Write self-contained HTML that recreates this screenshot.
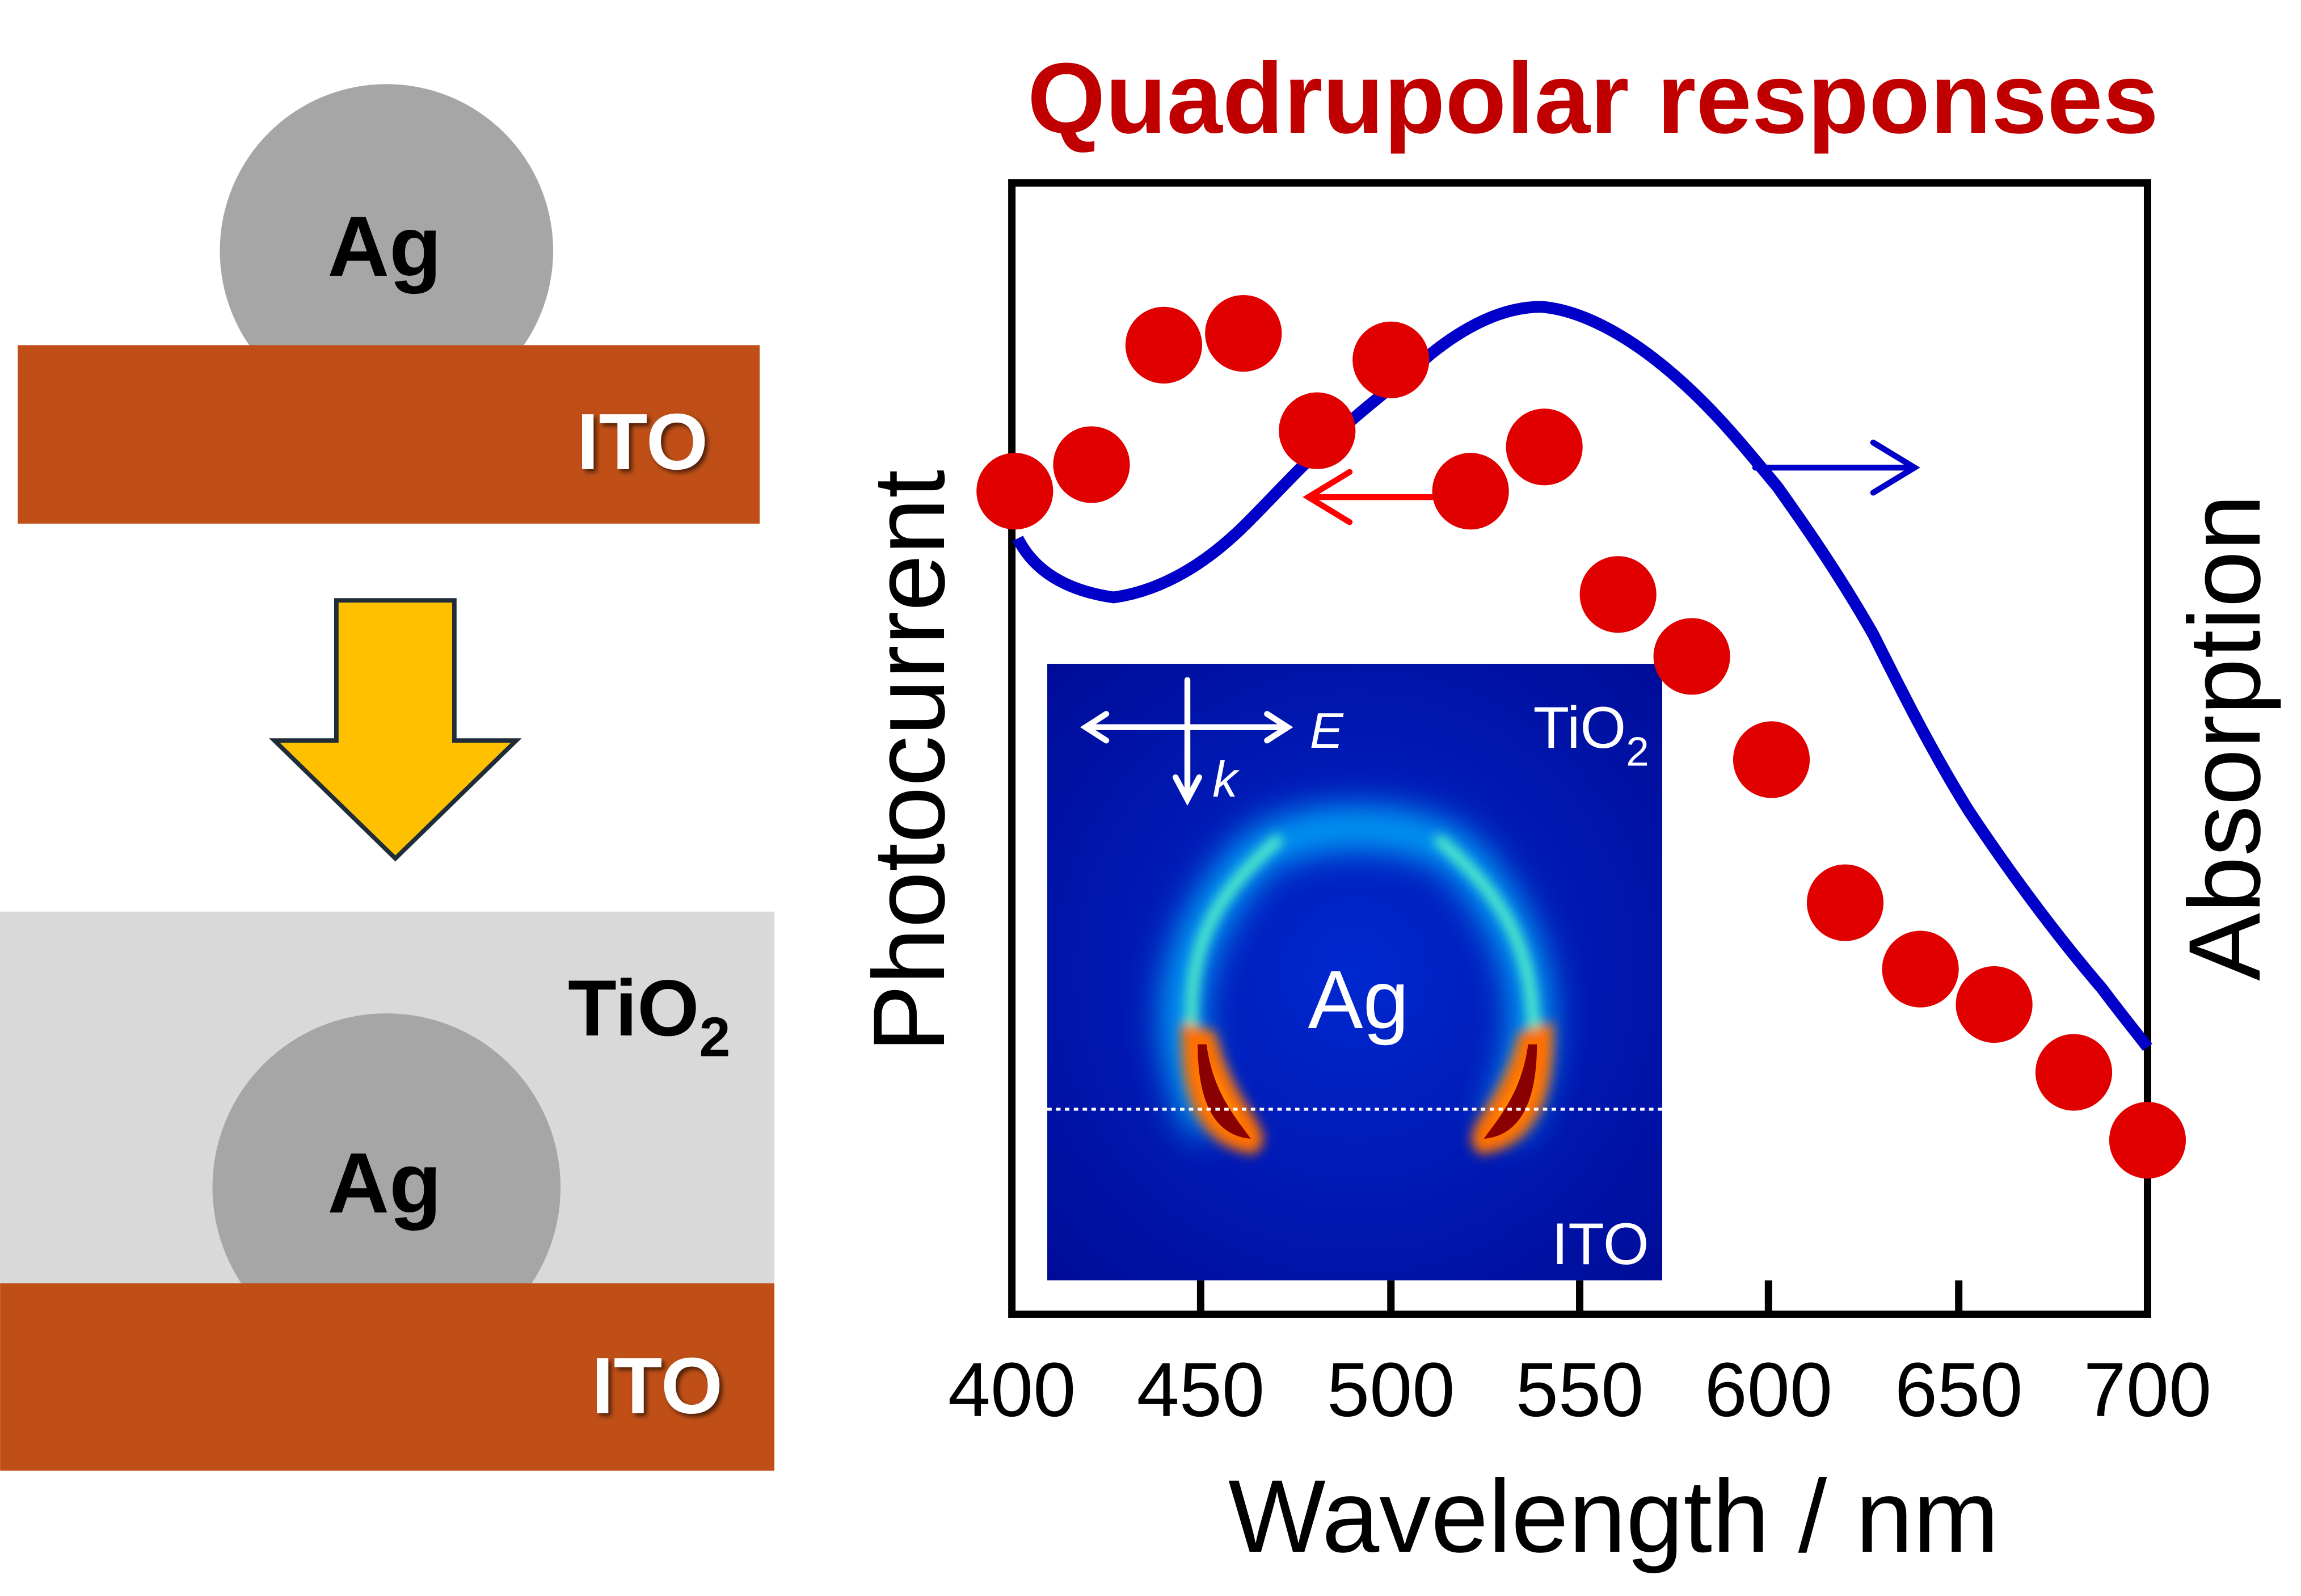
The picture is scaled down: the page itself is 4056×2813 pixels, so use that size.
<!DOCTYPE html>
<html><head><meta charset="utf-8"><style>
html,body{margin:0;padding:0;background:#fff;}
svg{display:block;}
text{font-family:"Liberation Sans",sans-serif;}
</style></head><body>
<svg width="4056" height="2813" viewBox="0 0 1560 1082" xmlns="http://www.w3.org/2000/svg">
<defs>
<filter id="sh"><feDropShadow dx="2" dy="2" stdDeviation="1.5" flood-color="#000" flood-opacity="0.6"/></filter>
<filter id="bl" x="-50%" y="-50%" width="200%" height="200%"><feGaussianBlur stdDeviation="12"/></filter>
<filter id="bl2" x="-50%" y="-50%" width="200%" height="200%"><feGaussianBlur stdDeviation="4"/></filter>
<radialGradient id="bg" cx="50%" cy="50%" r="70%"><stop offset="0" stop-color="#0028d0"/><stop offset="1" stop-color="#000c98"/></radialGradient>
<clipPath id="ic"><rect x="710" y="450" width="417" height="418"/></clipPath>
</defs>
<circle cx="262" cy="170" r="113" fill="#a6a6a6"/>
<rect x="12" y="234" width="503" height="121" fill="#bf4f17"/>
<text x="222" y="187" font-size="58" font-weight="bold" fill="#000">Ag</text>
<text x="480" y="318" font-size="54" font-weight="bold" fill="#fff" text-anchor="end" filter="url(#sh)">ITO</text>
<polygon points="228,407 308,407 308,502 350,502 268,582 186,502 228,502" fill="#ffc000" stroke="#1f2d3a" stroke-width="3"/>
<rect x="0" y="618" width="525" height="253" fill="#d9d9d9"/>
<circle cx="262" cy="805" r="118" fill="#a6a6a6"/>
<rect x="0" y="870" width="525" height="127" fill="#bf4f17"/>
<text x="222" y="822" font-size="58" font-weight="bold" fill="#000">Ag</text>
<text x="385" y="702" font-size="54" font-weight="bold" fill="#000">TiO<tspan font-size="38" dy="14">2</tspan></text>
<text x="490" y="958" font-size="54" font-weight="bold" fill="#fff" text-anchor="end" filter="url(#sh)">ITO</text>
<text x="1080" y="90" font-size="68" font-weight="bold" fill="#c00000" text-anchor="middle">Quadrupolar responses</text>
<g clip-path="url(#ic)">
<rect x="710" y="450" width="417" height="418" fill="url(#bg)"/>
<g filter="url(#bl)">
<path d="M820,765 C790,700 795,640 850,580 C880,555 960,555 990,580 C1045,640 1050,700 1020,765" fill="none" stroke="#00b0ff" stroke-width="26"/>
</g>
<g filter="url(#bl2)">
<path d="M808,700 C806,640 822,608 868,568 M974,568 C1020,608 1038,640 1040,700" fill="none" stroke="#60ffc0" stroke-width="7"/>
<path d="M808,702 C808,745 820,770 848,775 C855,768 830,750 818,705Z" fill="#ffd000" stroke="#ff7000" stroke-width="14"/>
<path d="M1046,702 C1046,745 1034,770 1006,775 C999,768 1024,750 1036,705Z" fill="#ffd000" stroke="#ff7000" stroke-width="14"/>
</g>
<path d="M812,708 C812,748 824,770 848,772 C838,758 822,740 818,708Z" fill="#8a0000"/>
<path d="M1042,708 C1042,748 1030,770 1006,772 C1016,758 1032,740 1036,708Z" fill="#8a0000"/>
<line x1="710" y1="752" x2="1127" y2="752" stroke="#fff" stroke-width="2" stroke-dasharray="3,3"/>
<text x="921" y="697" font-size="56" fill="#fff" text-anchor="middle">Ag</text>
<text x="1118" y="507" font-size="40" fill="#fff" text-anchor="end">TiO<tspan font-size="28" dy="12">2</tspan></text>
<text x="1118" y="857" font-size="40" fill="#fff" text-anchor="end">ITO</text>
<g stroke="#fff" stroke-width="4" fill="none" stroke-linecap="round">
<line x1="736" y1="493" x2="873" y2="493"/><polyline points="750,484 736,493 750,502"/><polyline points="859,484 873,493 859,502"/>
<line x1="805" y1="461" x2="805" y2="540"/><polyline points="797,527 805,542 813,527"/>
</g>
<text x="888" y="507" font-size="34" font-style="italic" fill="#fff">E</text>
<text x="822" y="540" font-size="34" font-style="italic" fill="#fff">k</text>
</g>
<rect x="686" y="124" width="770" height="767" fill="none" stroke="#000" stroke-width="5"/>
<g stroke="#000" stroke-width="5">
<line x1="814" y1="891" x2="814" y2="868"/><line x1="943" y1="891" x2="943" y2="868"/><line x1="1071" y1="891" x2="1071" y2="868"/><line x1="1199" y1="891" x2="1199" y2="868"/><line x1="1328" y1="891" x2="1328" y2="868"/>
</g>
<g font-size="52" text-anchor="middle" fill="#000">
<text x="686" y="960">400</text><text x="814" y="960">450</text><text x="943" y="960">500</text><text x="1071" y="960">550</text><text x="1199" y="960">600</text><text x="1328" y="960">650</text><text x="1456" y="960">700</text>
</g>
<text x="1094" y="1052" font-size="70" text-anchor="middle">Wavelength / nm</text>
<text transform="translate(640,516) rotate(-90)" font-size="69" text-anchor="middle">Photocurrent</text>
<text transform="translate(1532,500) rotate(-90)" font-size="69" text-anchor="middle">Absorption</text>
<path d="M690,365 C700,385 720,400 755,405 C790,400 820,380 845,355 C865,335 880,318 900,300 C920,280 945,262 970,240 C995,220 1020,208 1045,208 C1070,210 1100,225 1130,250 C1160,275 1180,300 1205,330 C1230,365 1250,395 1270,430 C1290,470 1310,510 1335,550 C1365,595 1395,635 1425,670 C1440,690 1450,702 1456,710" fill="none" stroke="#0000c8" stroke-width="8"/>
<g stroke="#0000c8" stroke-width="4" fill="none" stroke-linecap="round">
<line x1="1190" y1="317" x2="1298" y2="317"/><polyline points="1270,300 1298,317 1270,334"/>
</g>
<g stroke="#ff0000" stroke-width="4" fill="none" stroke-linecap="round">
<line x1="995" y1="337" x2="887" y2="337"/><polyline points="915,320 887,337 915,354"/>
</g>
<g fill="#e00000">
<circle cx="688" cy="333" r="26"/><circle cx="740" cy="315" r="26"/><circle cx="789" cy="234" r="26"/><circle cx="843" cy="226" r="26"/><circle cx="893" cy="292" r="26"/><circle cx="943" cy="244" r="26"/><circle cx="997" cy="333" r="26"/><circle cx="1047" cy="303" r="26"/><circle cx="1097" cy="403" r="26"/><circle cx="1147" cy="445" r="26"/><circle cx="1201" cy="515" r="26"/><circle cx="1251" cy="612" r="26"/><circle cx="1302" cy="657" r="26"/><circle cx="1352" cy="681" r="26"/><circle cx="1406" cy="727" r="26"/><circle cx="1456" cy="773" r="26"/>
</g>
</svg>
</body></html>
